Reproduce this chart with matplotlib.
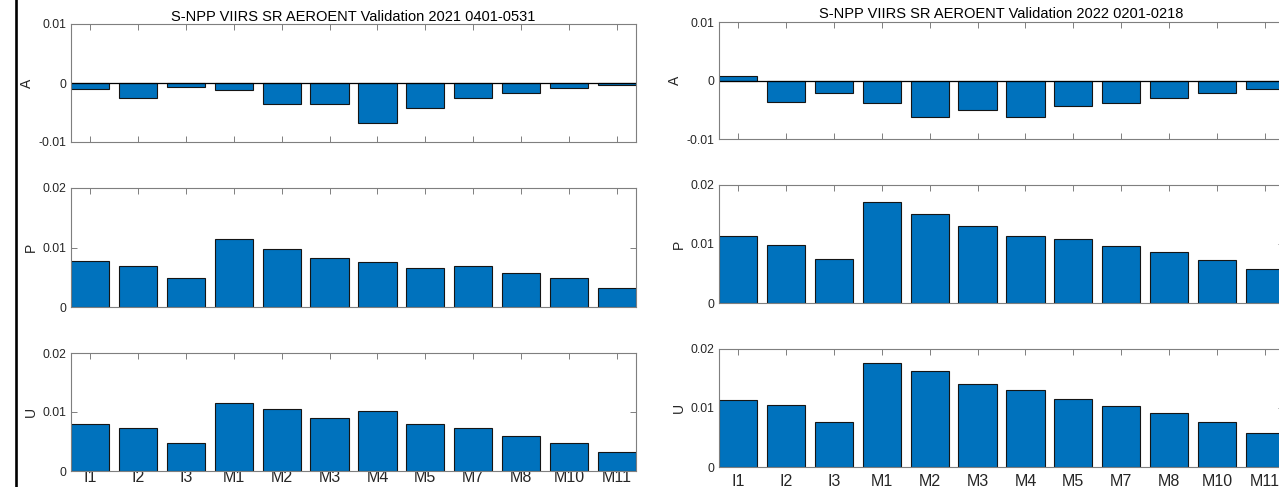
import numpy as np
import matplotlib.pyplot as plt
from matplotlib.lines import Line2D

plt.rcParams['font.family'] = ['Liberation Sans', 'DejaVu Sans']

bands = ['I1', 'I2', 'I3', 'M1', 'M2', 'M3', 'M4', 'M5', 'M7', 'M8', 'M10', 'M11']

# 2021 0401-0531
A_2021 = [-0.0010, -0.0025, -0.00075, -0.00115, -0.0036, -0.0036, -0.0067, -0.0042, -0.0025, -0.0017, -0.0009, -0.0003]
P_2021 = [0.0077, 0.0069, 0.0048, 0.0115, 0.0098, 0.0083, 0.0075, 0.0065, 0.0069, 0.0057, 0.0048, 0.0032]
U_2021 = [0.0079, 0.0073, 0.0048, 0.0116, 0.0105, 0.0090, 0.0101, 0.0079, 0.0073, 0.0060, 0.0048, 0.0032]

# 2022 0201-0218
A_2022 = [0.0007, -0.0037, -0.0021, -0.0039, -0.0062, -0.0051, -0.0062, -0.0044, -0.0039, -0.0030, -0.0022, -0.0014]
P_2022 = [0.0113, 0.0098, 0.0074, 0.0171, 0.0150, 0.0130, 0.0114, 0.0108, 0.0096, 0.0086, 0.0073, 0.0057]
U_2022 = [0.0114, 0.0105, 0.0077, 0.0176, 0.0163, 0.0140, 0.0130, 0.0116, 0.0104, 0.0091, 0.0076, 0.0057]

titles = ['S-NPP VIIRS SR AEROENT Validation 2021 0401-0531',
          'S-NPP VIIRS SR AEROENT Validation 2022 0201-0218']

W, H = 1279, 487
fig = plt.figure(figsize=(W/100, H/100), dpi=100)

# black frame line on the left edge
fig.add_artist(Line2D([15.5/W, 15.5/W], [0, 1], color='k', lw=1.9, transform=fig.transFigure))

bar_col = '#0072BD'
ax_col = '#7f7f7f'
x = np.arange(1, len(bands)+1)

cols = [
    (71, [(24, 142), (188, 307), (353, 471)], [A_2021, P_2021, U_2021], -0.8, 1.5),
    (719, [(22, 139), (185, 303), (349, 467)], [A_2022, P_2022, U_2022], 5.0, 3.0),
]
names = ['A', 'P', 'U']

for c, (x0, rows, series, xpad, tpad) in enumerate(cols):
    for r, ((top, bot), vals) in enumerate(zip(rows, series)):
        ax = fig.add_axes([x0/W, 1-bot/H, 565/W, (bot-top)/H])
        ax.bar(x, vals, width=0.8, color=bar_col, edgecolor='#151515', linewidth=0.8, zorder=2)
        ax.set_xlim(0.6, 12.4)
        if r == 0:
            ax.set_ylim(-0.01, 0.01)
            ax.set_yticks([-0.01, 0, 0.01])
            ax.set_yticklabels(['-0.01', '0', '0.01'])
            ax.axhline(0, color='k', lw=0.9, zorder=3)
            ax.set_title(titles[c], fontsize=10.5, pad=tpad)
        else:
            ax.set_ylim(0, 0.02)
            ax.set_yticks([0, 0.01, 0.02])
            ax.set_yticklabels(['0', '0.01', '0.02'])
        ax.set_xticks(x)
        if r == 2:
            ax.set_xticklabels(bands, fontsize=11.5, color='#262626')
        else:
            ax.set_xticklabels([])
        for s in ax.spines.values():
            s.set_color(ax_col)
            s.set_linewidth(0.8)
            s.set_zorder(4)
        ax.tick_params(axis='both', direction='in', length=4, width=0.7, color=ax_col,
                       top=True, right=True)
        ax.tick_params(axis='y', labelsize=8.8, labelcolor='#262626', pad=3.5)
        ax.tick_params(axis='x', pad=xpad)
        ax.set_ylabel(names[r], fontsize=10, color='#262626', labelpad=3)

plt.savefig('out.png', dpi=100)
